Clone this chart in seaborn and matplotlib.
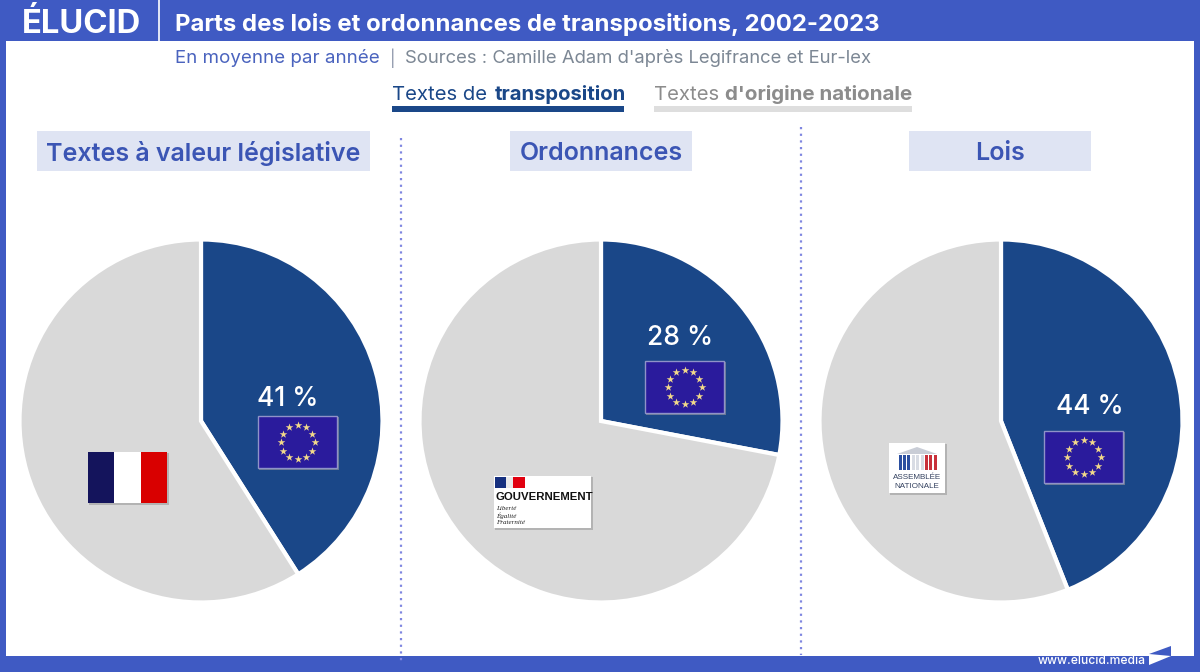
import numpy as np
import matplotlib
matplotlib.use('Agg')
import matplotlib.pyplot as plt
from matplotlib.patches import Rectangle, Polygon
import seaborn as sns

# Data
panel_titles = ['Textes à valeur législative', 'Ordonnances', 'Lois']
transposition = [41, 28, 44]
nationale = [59, 72, 56]
series_names = ['Textes de transposition', "Textes d'origine nationale"]

BLUE = '#3F5AC3'
TITLE_BLUE = '#3B55B4'
NAVY = '#1A4788'
GREY = '#D9D9D9'

sns.set_theme(style='white')
plt.rcParams['font.family'] = ['Inter', 'DejaVu Sans']
palette = sns.color_palette([NAVY, GREY])


def rect(ax, x0, y0, x1, y1, color, z=1, **kw):
    ax.add_patch(Rectangle((x0, y0), x1 - x0, y1 - y0, facecolor=color, edgecolor=kw.pop('ec', 'none'),
                           zorder=z, **kw))


def shadow(ax, x0, y0, x1, y1):
    rect(ax, x0 + 1, y0 + 1, x1 + 2, y1 + 2, '#9A9A9A', z=4, alpha=0.6)


def eu_flag(ax, x0, y0):
    w, h = 79, 52
    shadow(ax, x0, y0, x0 + w, y0 + h)
    rect(ax, x0, y0, x0 + w, y0 + h, '#2A1B9C', z=5, ec='#8F93C8', linewidth=1)
    a = np.arange(12) * np.pi / 6
    ax.scatter(x0 + w / 2 + 17 * np.sin(a), y0 + h / 2 + 17 * np.cos(a), marker='*', s=34,
               color='#F2D98A', linewidths=0, zorder=6)


def fr_flag(ax, x0, y0):
    shadow(ax, x0, y0, x0 + 79, y0 + 51)
    rect(ax, x0, y0, x0 + 26, y0 + 51, '#14145C', z=5)
    rect(ax, x0 + 26, y0, x0 + 53, y0 + 51, 'white', z=5)
    rect(ax, x0 + 53, y0, x0 + 79, y0 + 51, '#D90000', z=5)


def gouv_logo(ax, x0, y0):
    shadow(ax, x0, y0, x0 + 97, y0 + 52)
    rect(ax, x0, y0, x0 + 97, y0 + 52, 'white', z=5)
    rect(ax, x0 + 1, y0 + 1, x0 + 12, y0 + 12, '#16307F', z=6)
    rect(ax, x0 + 12, y0 + 1, x0 + 19, y0 + 12, '#E9E9E9', z=6)
    rect(ax, x0 + 19, y0 + 1, x0 + 31, y0 + 12, '#E1000F', z=6)
    ax.text(x0 + 1, y0 + 21, 'GOUVERNEMENT', fontsize=8.2, fontweight='bold', color='#111111',
            family='Liberation Sans', va='center', ha='left', zorder=6)
    for i, word in enumerate(['Liberté', 'Égalité', 'Fraternité']):
        ax.text(x0 + 2, y0 + 32 + i * 7.5, word, fontsize=5, style='italic', color='#222222',
                family='Liberation Serif', va='center', zorder=6)


def an_logo(ax, x0, y0):
    shadow(ax, x0, y0, x0 + 56, y0 + 50)
    rect(ax, x0, y0, x0 + 56, y0 + 50, 'white', z=5)
    ax.add_patch(Polygon([[x0 + 8, y0 + 11], [x0 + 28, y0 + 4], [x0 + 48, y0 + 11]], facecolor='#C9CDD6',
                         edgecolor='none', zorder=6))
    for k in range(9):
        c = '#2B4FA0' if k < 3 else ('#D8DCE4' if k < 6 else '#C8303A')
        rect(ax, x0 + 9.5 + k * 4.4, y0 + 12, x0 + 12.5 + k * 4.4, y0 + 27, c, z=6)
    ax.text(x0 + 28, y0 + 34.5, 'ASSEMBLÉE', fontsize=5.8, color='#33415F', ha='center', va='center',
            family='Liberation Sans', zorder=6)
    ax.text(x0 + 28, y0 + 43, 'NATIONALE', fontsize=5.8, color='#33415F', ha='center', va='center',
            family='Liberation Sans', zorder=6)


fig = plt.figure(figsize=(12, 6.72), dpi=100, facecolor='white')

# Pies
centers = [201, 601, 1001]
R = 181.5
for cx, t, n in zip(centers, transposition, nationale):
    ax = fig.add_axes([(cx - R - 4) / 1200, 1 - (421 + R + 4) / 672, (2 * R + 8) / 1200, (2 * R + 8) / 672])
    ax.pie([t, n], colors=palette, startangle=90, counterclock=False, radius=1,
           wedgeprops=dict(edgecolor='white', linewidth=3))
    ax.set_xlim(-(R + 4) / R, (R + 4) / R)
    ax.set_ylim(-(R + 4) / R, (R + 4) / R)
    ax.axis('off')

# Overlay in pixel coordinates
ov = fig.add_axes([0, 0, 1, 1], facecolor='none')
ov.set_xlim(0, 1200)
ov.set_ylim(672, 0)
ov.axis('off')

# Frame
rect(ov, 0, 0, 1200, 41, BLUE, z=2)
rect(ov, 0, 0, 6, 672, BLUE, z=2)
rect(ov, 1194, 0, 1200, 672, BLUE, z=2)
rect(ov, 0, 656, 1200, 672, BLUE, z=2)
ov.plot([159, 159], [0, 41], color='white', lw=1.2, zorder=3)
ov.text(22, 33, 'ÉLUCID', color='white', fontsize=23.6, fontweight='bold', va='baseline', ha='left', zorder=3)
ov.text(175, 24.5, 'Parts des lois et ordonnances de transpositions, 2002-2023', color='white',
        fontsize=17.25, fontweight='bold', va='center', ha='left', zorder=3)
ov.text(175, 58, 'En moyenne par année', color='#4A63BE', fontsize=13.5, va='center', ha='left')
ov.text(390, 58, '|', color='#8A93A8', fontsize=12, va='center', ha='left')
ov.text(405, 58, "Sources : Camille Adam d'après Legifrance et Eur-lex", color='#7C8794', fontsize=13.3,
        va='center', ha='left')

# Legend
ov.text(392, 95, 'Textes de ', color=NAVY, fontsize=14.6, va='center', ha='left')
ov.text(495, 95, 'transposition', color=NAVY, fontsize=14.6, fontweight='bold', va='center', ha='left')
rect(ov, 392, 106, 624, 112, NAVY)
ov.text(654, 95, 'Textes ', color='#8C8C8C', fontsize=14.6, va='center', ha='left')
ov.text(725, 95, "d'origine nationale", color='#8C8C8C', fontsize=14.8, fontweight='bold', va='center', ha='left')
rect(ov, 654, 106, 912, 112, '#DEDEDE')

# Panel headers
boxes = [(37, 370), (510, 692), (909, 1091)]
for (x0, x1), title in zip(boxes, panel_titles):
    rect(ov, x0, 131, x1, 171, '#DFE4F3')
    ov.text((x0 + x1) / 2, 153.5, title, color=TITLE_BLUE, fontsize=18, fontweight='semibold',
            va='center', ha='center', zorder=3)

# Dotted separators
ov.plot([401, 401], [138, 662], color='#7F86E0', lw=1.6, ls=(0, (1, 2)), zorder=3)
ov.plot([801, 801], [127, 655], color='#7F86E0', lw=1.6, ls=(0, (1, 2)), zorder=3)

# Percent labels and logos
label_pos = [(288, 399), (680, 338), (1090, 407)]
for (x, y), t in zip(label_pos, transposition):
    ov.text(x, y, f'{t} %', color='white', fontsize=19, fontweight='medium', va='center', ha='center', zorder=6)
eu_flag(ov, 258, 416)
eu_flag(ov, 645, 361)
eu_flag(ov, 1044, 431)
fr_flag(ov, 88, 452)
gouv_logo(ov, 494, 476)
an_logo(ov, 889, 443)

# Footer
ov.text(1038, 661, 'www.elucid.media', color='white', fontsize=8.7, fontweight='medium', va='center', ha='left', zorder=3)
ov.add_patch(Polygon([[1149, 654], [1171, 646], [1171, 656]], facecolor=BLUE, edgecolor='none', zorder=3))
ov.add_patch(Polygon([[1149, 656], [1171, 656], [1149, 665]], facecolor='white', edgecolor='none', zorder=3))

fig.savefig('out.png', dpi=100)
